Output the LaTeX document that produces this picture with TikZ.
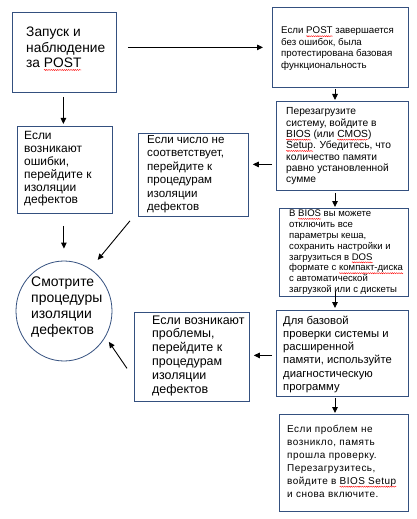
\documentclass[tikz,border=0pt]{standalone}
\usepackage{fontspec}
\setmainfont{Liberation Sans}
\newfontfamily\spaced[LetterSpace=5]{Liberation Sans}
\usetikzlibrary{arrows.meta,calc,shapes.geometric,decorations.pathmorphing}
\definecolor{bordercol}{RGB}{52,80,127}
\newcommand\wv[1]{\setbox0=\hbox{#1}\leavevmode\rlap{\tikz[overlay,baseline=0pt]\draw[red,line width=0.4pt,decorate,decoration={snake,amplitude=0.55pt,segment length=2.2pt}] (0pt,-2.2pt) -- (\the\wd0,-2.2pt);}\box0\relax}
\newcommand\bxtext[3]{\vtop{\fontsize{#1}{#2}\selectfont\lineskiplimit=-20pt\lineskip=0pt\halign{##\hfil\cr#3\crcr}}}
\begin{document}
\begin{tikzpicture}[x=1bp,y=-1bp,
  box/.style={draw=bordercol,line width=0.8bp,inner sep=0pt,anchor=north west},
  lbl/.style={inner sep=0pt,anchor=base west},
  arr/.style={-{Triangle[length=6bp,width=5.5bp]},line width=0.9bp,black}]
\fill[white] (0,0) rectangle (416,519);
\useasboundingbox (0,0) rectangle (416,519);
% boxes
\node[box,minimum width=104bp,minimum height=80bp] (b1) at (12,12) {};
\node[box,minimum width=136bp,minimum height=80bp] (b2) at (272,7) {};
\node[box,minimum width=95bp,minimum height=87bp] (b3) at (17,126) {};
\node[box,minimum width=110bp,minimum height=83bp] (b4) at (138,133) {};
\node[box,minimum width=132bp,minimum height=89bp] (b5) at (276,101) {};
\node[box,minimum width=129bp,minimum height=88bp] (b6) at (279,208) {};
\node[draw=bordercol,line width=0.8bp,ellipse,minimum width=96bp,minimum height=100bp,inner sep=0pt] (circ) at (64,311) {};
\node[box,minimum width=132bp,minimum height=86bp] (b7) at (276,310) {};
\node[box,minimum width=115bp,minimum height=89bp] (b8) at (134,312) {};
\node[box,minimum width=129bp,minimum height=97bp] (b9) at (279,414) {};
% texts
\node[lbl] (t1) at (26,36.7) {\bxtext{13.8}{15.6}{Запуск и\cr наблюдение\cr за \wv{POST}}};
\node[lbl] (t2) at (281,34) {\bxtext{9.75}{11.5}{Если \wv{POST} завершается\cr без ошибок, была\cr протестирована базовая\cr функциональность}};
\node[lbl] (t3) at (24,140) {\bxtext{12}{12.8}{Если\cr возникают\cr ошибки,\cr перейдите к\cr изоляции\cr дефектов}};
\node[lbl] (t4) at (147,143.3) {\bxtext{11.6}{13.5}{Если число не\cr соответствует,\cr перейдите к\cr процедурам\cr изоляции\cr дефектов}};
\node[lbl] (t5) at (286,115) {\bxtext{10.3}{11.3}{Перезагрузите\cr систему, войдите в\cr \wv{BIOS} (или \wv{CMOS})\cr \wv{Setup}. Убедитесь, что\cr количество памяти\cr равно установленной\cr сумме}};
\node[lbl] (t6) at (289,216.7) {\bxtext{9.6}{10.9}{В \wv{BIOS} вы можете\cr отключить все\cr параметры кеша,\cr сохранить настройки и\cr загрузиться в \wv{DOS}\cr формате с \wv{компакт-диска}\cr с автоматической\cr загрузкой или с дискеты}};
\node[lbl] (tc) at (31,286.7) {\bxtext{14}{16}{Смотрите\cr процедуры\cr изоляции\cr дефектов}};
\node[lbl] (t7) at (283,324) {\bxtext{11.3}{13.3}{Для базовой\cr проверки системы и\cr расширенной\cr памяти, используйте\cr диагностическую\cr программу}};
\node[lbl] (t8) at (152,324) {\bxtext{12.5}{14}{Если возникают\cr проблемы,\cr перейдите к\cr процедурам\cr изоляции\cr дефектов}};
\node[lbl] (t9) at (287,432.7) {\spaced\bxtext{10}{13}{Если проблем не\cr возникло, память\cr прошла проверку.\cr Перезагрузитесь,\cr войдите в \wv{BIOS Setup}\cr и снова включите.}};
% connectors
\coordinate (xc) at (335,0);
\draw[arr] ($(b1.east |- b2.west)+(11,0)$) -- ($(b2.west)+(-9,0)$);
\draw[arr] ($(b1.south)+(-1,4)$) -- ($(b1.south |- b3.north)+(-1,-2)$);
\draw[arr] ($(b2.south -| xc)+(0,1)$) -- ($(b5.north -| xc)+(0,-1)$);
\coordinate (p54) at ($(b5.west)+(-4,18.5)$);
\draw[arr] (p54) -- ($(b4.east |- p54)+(4,0)$);
\draw[arr] ($(b5.south -| xc)+(0,2)$) -- ($(b6.north -| xc)+(0,-1)$);
\draw[arr] ($(b3.south)+(-1,12)$) -- ($(b3.south |- circ.north)+(-1,-12)$);
\draw[arr,shorten >=11.5bp] ($(b4.south west)+(-8,4)$) -- (circ.58);
\draw[arr] ($(b6.south -| xc)+(0,-5)$) -- ($(b7.north -| xc)+(0,-2)$);
\draw[arr] ($(b7.west)+(-4,2)$) -- ($(b8.east |- b7.west)+(4,2)$);
\draw[arr,shorten >=6bp] ($(b8.west)+(-7,11.5)$) -- (circ.-32);
\draw[arr] ($(b7.south -| xc)+(0,1)$) -- ($(b9.north -| xc)+(0,-1)$);
\end{tikzpicture}
\end{document}
